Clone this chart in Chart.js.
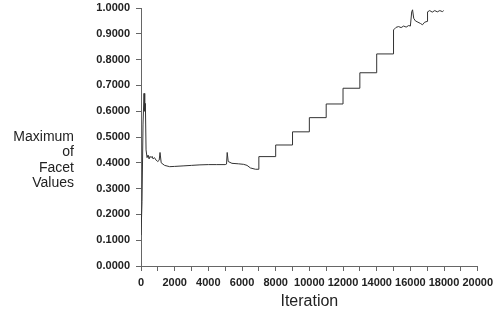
<!DOCTYPE html>
<html lang="en">
<head>
    <meta charset="UTF-8">
    <title>Maximum of Facet Values</title>
    <script src="https://cdn.jsdelivr.net/npm/chart.js"></script>
    <style>
        body { margin: 0; background: #fff; }
    </style>
</head>
<body>
<canvas id="facetChart" width="498" height="314"></canvas>

<script>
    // values
    const iterations = [
        0, 60, 120, 180, 220, 260, 300, 360, 420, 480, 540, 600, 660, 720, 800, 900, 1000, 1080, 1130, 1200,
        1400, 1700, 2000, 2500, 3000, 3500, 4000, 4500, 5000, 5080, 5120, 5180, 5400, 5800, 6100, 6300, 6500, 6800,
        7000, 7000, 8000, 8000, 9000, 9000, 10000, 10000, 11000, 11000, 12000, 12000, 13000, 13000, 14000, 14000,
        15000, 15000, 15150, 15300, 15450, 15600, 15750, 15900, 16000, 16080, 16130, 16200, 16300, 16450, 16600,
        16720, 16850, 17000, 17020, 17150, 17300, 17450, 17600, 17750, 17900, 17980
    ];
    const maxFacet = [
        0.120, 0.250, 0.550, 0.669, 0.600, 0.630, 0.450, 0.420, 0.430, 0.415, 0.425, 0.420, 0.425, 0.415, 0.420, 0.410, 0.405, 0.410, 0.440, 0.400,
        0.390, 0.385, 0.386, 0.388, 0.390, 0.392, 0.393, 0.393, 0.393, 0.395, 0.440, 0.405, 0.398, 0.396, 0.394, 0.390, 0.380, 0.375,
        0.375, 0.424, 0.424, 0.469, 0.469, 0.520, 0.520, 0.575, 0.575, 0.628, 0.628, 0.689, 0.689, 0.749, 0.749, 0.822,
        0.822, 0.915, 0.925, 0.928, 0.924, 0.930, 0.926, 0.932, 0.930, 0.985, 0.993, 0.960, 0.950, 0.945, 0.940,
        0.935, 0.945, 0.948, 0.985, 0.990, 0.984, 0.990, 0.985, 0.990, 0.986, 0.990
    ];
    const yTitleLines = ['Maximum', 'of', 'Facet', 'Values'];
    const xTitle = 'Iteration';

    const points = iterations.map((x, i) => ({ x: x, y: maxFacet[i] }));

    const yTitlePlugin = {
        id: 'yTitle',
        afterDraw(chart) {
            const ctx = chart.ctx;
            ctx.save();
            ctx.fillStyle = '#222';
            ctx.font = '14px "Liberation Sans", Arial, sans-serif';
            ctx.textAlign = 'right';
            ctx.textBaseline = 'middle';
            yTitleLines.forEach((line, i) => {
                ctx.fillText(line, 74, 137 + i * 15.5);
            });
            ctx.restore();
        }
    };

    const tickFont = { family: '"Liberation Sans", Arial, sans-serif', size: 11, weight: 'bold' };

    const ctx = document.getElementById('facetChart').getContext('2d');
    new Chart(ctx, {
        type: 'line',
        data: {
            datasets: [{
                data: points,
                borderColor: '#333',
                borderWidth: 1,
                pointRadius: 0,
                tension: 0,
                fill: false
            }]
        },
        options: {
            responsive: false,
            animation: false,
            layout: { padding: { top: 8, right: 20, left: 0, bottom: 0 } },
            plugins: {
                legend: { display: false },
                tooltip: { enabled: false }
            },
            scales: {
                x: {
                    type: 'linear',
                    min: 0,
                    max: 20000,
                    afterFit(scale) { scale.height = 48; },
                    border: { color: '#666', width: 1 },
                    grid: { drawOnChartArea: false, tickLength: 5, color: '#666' },
                    ticks: {
                        stepSize: 1000,
                        autoSkip: false,
                        maxRotation: 0,
                        padding: 5,
                        color: '#222',
                        font: tickFont,
                        callback: v => (v % 2000 === 0 ? String(v) : '')
                    },
                    title: {
                        display: true,
                        text: xTitle,
                        color: '#222',
                        font: { family: '"Liberation Sans", Arial, sans-serif', size: 16 },
                        padding: { top: 2, bottom: 3 }
                    }
                },
                y: {
                    min: 0,
                    max: 1,
                    afterFit(scale) {
                        scale.width = 141;
                        scale.paddingTop = 0;
                        scale.paddingBottom = 0;
                    },
                    border: { color: '#666', width: 1 },
                    grid: { drawOnChartArea: false, tickLength: 5, color: '#666' },
                    ticks: {
                        stepSize: 0.1,
                        padding: 6,
                        color: '#222',
                        font: tickFont,
                        callback: v => v.toFixed(4)
                    }
                }
            }
        },
        plugins: [yTitlePlugin]
    });
</script>
</body>
</html>
